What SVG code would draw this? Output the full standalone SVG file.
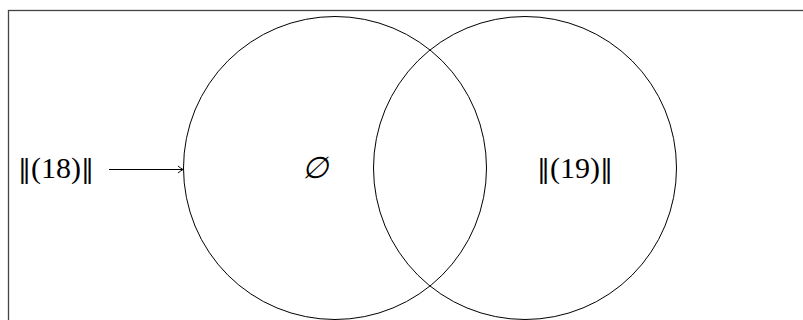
<svg xmlns="http://www.w3.org/2000/svg" width="803" height="320" viewBox="0 0 803 320">
<style>
.c{fill:none;stroke:#000;stroke-width:1}
.t{font-family:"Liberation Serif","DejaVu Serif",serif;font-size:30px;fill:#000}
.n{font-family:"DejaVu Serif",serif;font-size:26px;font-weight:normal}
</style>
<defs>
<marker id="ah" markerWidth="8" markerHeight="10" refX="6" refY="5" orient="auto" markerUnits="userSpaceOnUse">
<path d="M1,1.5 Q4,4 6,5 Q4,6 1,8.5" fill="none" stroke="#000" stroke-width="1"/>
</marker>
</defs>
<rect x="8.5" y="10.5" width="820" height="330" fill="#fff" stroke="#444" stroke-width="1.3"/>
<g id="setA">
<circle class="c" cx="335" cy="168" r="151.5"/>
<text class="t" x="315" y="178" text-anchor="middle" font-style="italic">∅</text>
</g>
<g id="setB">
<circle class="c" cx="525" cy="168" r="151.5"/>
<text class="t" x="575" y="178" text-anchor="middle"><tspan class="n">‖</tspan>(19)<tspan class="n">‖</tspan></text>
</g>
<g id="label18">
<text class="t" x="56" y="178" text-anchor="middle"><tspan class="n">‖</tspan>(18)<tspan class="n">‖</tspan></text>
</g>
<g id="connectors">
<line x1="109" y1="169.5" x2="183" y2="169.5" stroke="#000" stroke-width="1" marker-end="url(#ah)"/>
</g>
</svg>
